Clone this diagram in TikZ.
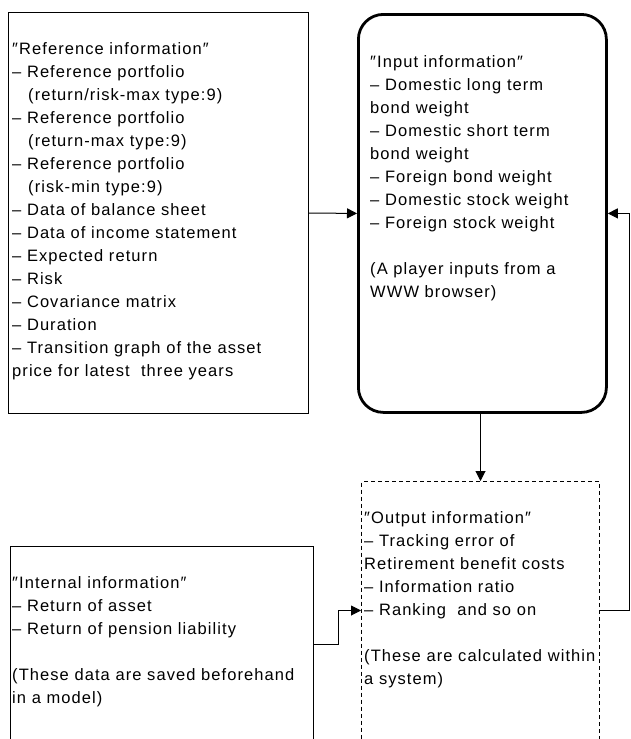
\documentclass[tikz,border=0pt]{standalone}
\usepackage{fontspec}
\setmainfont[LetterSpace=6.5]{Liberation Sans}
\usetikzlibrary{arrows.meta}
\newcommand{\linesblock}[1]{\begin{tabular}[t]{@{}l@{}}#1\end{tabular}}
\newcommand{\itm}{–\ }
\begin{document}
\begin{tikzpicture}[x=1pt,y=-1pt,
  frame/.style={draw,line width=1.1pt,inner sep=0pt,anchor=north west},
  roundframe/.style={draw,line width=2.8pt,rounded corners=25pt,inner sep=0pt,anchor=north west},
  dashframe/.style={draw,line width=1pt,dash pattern=on 4pt off 3pt,inner sep=0pt,anchor=north west},
  txt/.style={anchor=base west,inner sep=0pt,font=\fontsize{16.5}{23}\selectfont},
  link/.style={line width=1pt,-{Triangle[length=10pt,width=10pt]}},
  plain/.style={line width=1pt}]
\useasboundingbox (0,0) rectangle (630,739);

% boxes
\node[frame,minimum width=300pt,minimum height=401pt] (ref) at (8,12) {};
\node[roundframe,minimum width=248pt,minimum height=398pt] (input) at (357,13) {};
\node[dashframe,minimum width=238pt,minimum height=258pt] (output) at (361,481) {};
\node[frame,minimum width=303pt,minimum height=196pt] (internal) at (10,546) {};

% box texts
\node[txt] (reftext) at (12,54) {\linesblock{″Reference information″\\
\itm Reference portfolio\\
\hspace{16pt}(return/risk-max type:9)\\
\itm Reference portfolio\\
\hspace{16pt}(return-max type:9)\\
\itm Reference portfolio\\
\hspace{16pt}(risk-min type:9)\\
\itm Data of balance sheet\\
\itm Data of income statement\\
\itm Expected return\\
\itm Risk\\
\itm Covariance matrix\\
\itm Duration\\
\itm Transition graph of the asset\\
price for latest\ \ three years}};

\node[txt] (inputtext) at (370,67) {\linesblock{″Input information″\\
\itm Domestic long term\\
bond weight\\
\itm Domestic short term\\
bond weight\\
\itm Foreign bond weight\\
\itm Domestic stock weight\\
\itm Foreign stock weight\\
\\
(A player inputs from a\\
WWW browser)}};

\node[txt] (outputtext) at (364,523) {\linesblock{″Output information″\\
\itm Tracking error of\\
Retirement benefit costs\\
\itm Information ratio\\
\itm Ranking\ \ and so on\\
\\
(These are calculated within\\
a system)}};

\node[txt] (internaltext) at (12,588) {\linesblock{″Internal information″\\
\itm Return of asset\\
\itm Return of pension liability\\
\\
(These data are saved beforehand\\
in a model)}};

% connectors
\coordinate (rightrail) at (629.5,0);
\draw[link] (ref.east) -- (input.west);
\draw[link] (input.south -| output.north) -- (output.north);
\draw[plain] (output.east) -| (rightrail |- input.east);
\draw[link] (rightrail |- input.east) -- (input.east);
\draw[link] (internal.east) -- ++(24,0) |- (output.west);
\end{tikzpicture}
\end{document}
